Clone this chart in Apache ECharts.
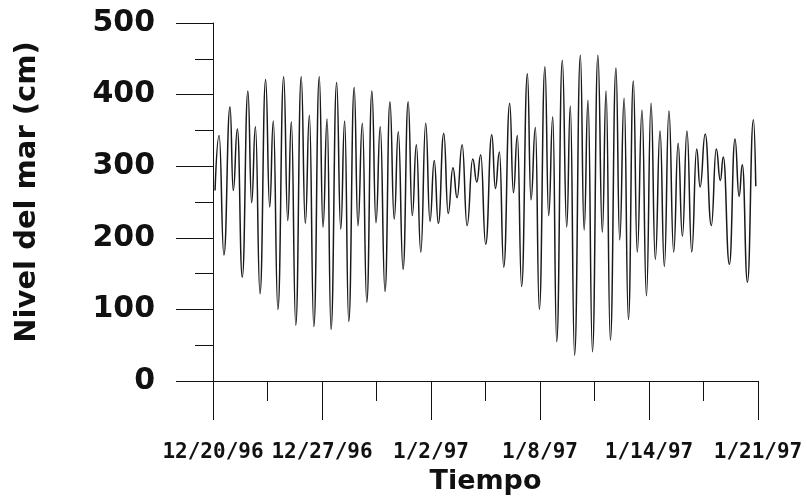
<!DOCTYPE html>
<html>
<head>
<meta charset="utf-8">
<script src="https://cdn.jsdelivr.net/npm/echarts@6/dist/echarts.min.js"></script>
<style>
  html, body { margin: 0; padding: 0; background: #fff; }
  #chart { width: 807px; height: 500px; }
</style>
</head>
<body>
<div id="chart"></div>
<script>
// tiempo en días desde 12/20/96 (extremos de marea)
var dias = [
  0.12, 0.36, 0.64, 1.00, 1.19, 1.43, 1.72, 2.05, 2.27, 2.49,
  2.76, 3.09, 3.33, 3.54, 3.81, 4.15, 4.39, 4.60, 4.86, 5.18,
  5.42, 5.66, 5.92, 6.24, 6.46, 6.70, 6.93, 7.26, 7.50, 7.73,
  7.97, 8.29, 8.51, 8.77, 9.03, 9.33, 9.57, 9.82, 10.10, 10.39,
  10.64, 10.88, 11.16, 11.46, 11.70, 11.94, 12.20, 12.49, 12.74, 12.99,
  13.23, 13.55, 13.81, 14.09, 14.33, 14.63, 14.92, 15.25, 15.49, 15.72,
  16.01, 16.37, 16.58, 16.82, 17.07, 17.42, 17.64, 17.87, 18.12, 18.46,
  18.67, 18.93, 19.16, 19.49, 19.71, 19.95, 20.18, 20.51, 20.77, 20.98,
  21.23, 21.57, 21.79, 22.02, 22.28, 22.60, 22.86, 23.08, 23.33, 23.66,
  23.88, 24.14, 24.39, 24.68, 24.91, 25.19, 25.45, 25.72, 25.97, 26.25,
  26.50, 26.77, 27.05, 27.31, 27.56, 27.83, 28.11, 28.40, 28.60, 28.90,
  29.26, 29.55, 29.79, 29.96, 30.32, 30.65, 30.89, 31.08, 31.38, 31.73,
  31.87
];
// nivel del mar (cm)
var nivel = [
  266, 343, 176, 383, 266, 352, 145, 405, 249, 355,
  122, 421, 243, 363, 100, 425, 224, 362, 78, 425,
  220, 371, 76, 425, 215, 366, 72, 417, 212, 363,
  83, 410, 217, 360, 110, 405, 221, 355, 125, 390,
  226, 348, 156, 390, 231, 330, 180, 360, 223, 308,
  220, 346, 234, 298, 256, 330, 217, 310, 278, 316,
  191, 344, 269, 320, 159, 388, 263, 343, 132, 429,
  253, 354, 100, 439, 231, 369, 55, 448, 215, 384,
  36, 455, 211, 392, 41, 455, 208, 405, 57, 437,
  197, 395, 86, 419, 180, 378, 119, 388, 170, 349,
  160, 377, 180, 332, 202, 349, 180, 324, 271, 345,
  217, 324, 280, 313, 163, 338, 258, 302, 138, 365,
  272
];
var xTicks = [0, 6.4, 12.8, 19.2, 25.6, 32];
var xLabels = ['12/20/96', '12/27/96', '1/2/97', '1/8/97', '1/14/97', '1/21/97'];

var datos = dias.map(function (d, i) { return [d, nivel[i]]; });

var myChart = echarts.init(document.getElementById('chart'));
var option = {
  animation: false,
  backgroundColor: '#fff',
  grid: {
    left: 213,
    right: 49,
    top: 23,
    bottom: 119
  },
  xAxis: {
    type: 'value',
    min: 0,
    max: 32,
    interval: 6.4,
    name: 'Tiempo',
    nameLocation: 'middle',
    nameGap: 87,
    nameTextStyle: {
      fontFamily: 'DejaVu Sans',
      fontWeight: 'bold',
      fontSize: 27,
      color: '#111'
    },
    axisLine: { lineStyle: { color: '#111', width: 1 } },
    axisTick: { length: 39, lineStyle: { color: '#111' } },
    minorTick: { show: true, splitNumber: 2, length: 20, lineStyle: { color: '#111' } },
    splitLine: { show: false },
    axisLabel: {
      margin: 61,
      fontFamily: 'DejaVu Sans Mono',
      fontWeight: 'bold',
      fontSize: 21,
      color: '#111',
      showMinLabel: true,
      showMaxLabel: true,
      formatter: function (v) {
        var i = xTicks.findIndex(function (t) { return Math.abs(t - v) < 0.01; });
        return i >= 0 ? xLabels[i] : '';
      }
    }
  },
  yAxis: {
    type: 'value',
    min: 0,
    max: 500,
    interval: 100,
    name: 'Nivel del mar (cm)',
    nameLocation: 'middle',
    nameGap: 171,
    nameTextStyle: {
      fontFamily: 'DejaVu Sans',
      fontWeight: 'bold',
      fontSize: 29,
      color: '#111',
      padding: [0, 0, 0, 20]
    },
    axisLine: { show: true, lineStyle: { color: '#111', width: 1 } },
    axisTick: { show: true, length: 37, lineStyle: { color: '#111' } },
    minorTick: { show: true, splitNumber: 2, length: 18, lineStyle: { color: '#111' } },
    splitLine: { show: false },
    axisLabel: {
      margin: 58,
      fontFamily: 'DejaVu Sans',
      fontWeight: 'bold',
      fontSize: 30,
      color: '#111'
    }
  },
  series: [
    {
      type: 'line',
      data: datos,
      smooth: 0.5,
      smoothMonotone: 'x',
      showSymbol: false,
      lineStyle: { color: '#1a1a1a', width: 1.5 }
    }
  ]
};
myChart.setOption(option);
</script>
</body>
</html>
